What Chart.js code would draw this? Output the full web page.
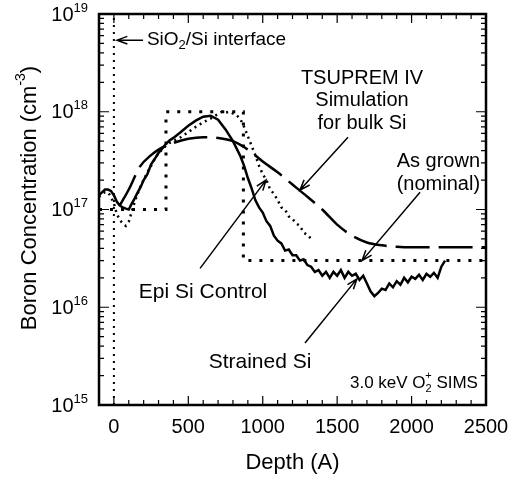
<!DOCTYPE html>
<html>
<head>
<meta charset="utf-8">
<script src="https://cdn.jsdelivr.net/npm/chart.js@4.4.1/dist/chart.umd.min.js"></script>
<style>
  html, body { margin: 0; padding: 0; background: #fff; }
  canvas { display: block; }
</style>
</head>
<body>
<canvas id="sims" width="512" height="482"></canvas>
<script>
// depth in Angstrom, boron concentration in cm^-3
const strainedDepth = [-100, -80, -60, -40, -20, 0, 20, 40, 60, 80, 100, 120, 140, 160, 180, 200, 225, 250, 275, 300,
  325, 350, 375, 400, 450, 500, 550, 600, 650, 700, 750, 800, 825, 850, 875, 900, 925, 950, 975, 1000,
  1025, 1050, 1075, 1100, 1125, 1150, 1175, 1200, 1225, 1250, 1275, 1300, 1325, 1350, 1375, 1400, 1425, 1450, 1475, 1500,
  1525, 1550, 1575, 1600, 1625, 1650, 1675, 1700, 1725, 1750, 1775, 1800, 1825, 1850, 1875, 1900, 1925, 1950, 1975, 2000,
  2025, 2050, 2075, 2100, 2125, 2150, 2175, 2200, 2225];
const strainedConc = [1.4e17, 1.5e17, 1.6e17, 1.6e17, 1.55e17, 1.4e17, 1.2e17, 1.1e17, 1.05e17, 1.02e17, 1.0e17, 1.15e17, 1.3e17, 1.5e17, 1.7e17, 2.0e17, 2.3e17, 2.9e17, 3.3e17, 3.8e17,
  4.2e17, 4.7e17, 5.1e17, 5.4e17, 6.2e17, 7.2e17, 8.1e17, 8.9e17, 9.1e17, 8.3e17, 6.6e17, 5.0e17, 4.2e17, 3.5e17, 2.8e17, 2.1e17, 1.65e17, 1.25e17, 1.05e17, 9.3e16,
  7.6e16, 6.8e16, 5.4e16, 4.8e16, 4.5e16, 3.8e16, 3.9e16, 3.4e16, 3.4e16, 3.0e16, 3.1e16, 2.7e16, 2.6e16, 2.3e16, 2.4e16, 2.1e16, 2.3e16, 2.0e16, 2.3e16, 2.1e16,
  2.4e16, 2.0e16, 2.3e16, 2.1e16, 2.2e16, 1.9e16, 2.1e16, 1.75e16, 1.45e16, 1.3e16, 1.4e16, 1.55e16, 1.5e16, 1.75e16, 1.6e16, 1.85e16, 1.7e16, 2.0e16, 1.8e16, 2.05e16,
  1.95e16, 2.15e16, 1.9e16, 2.2e16, 2.05e16, 2.25e16, 2.0e16, 2.6e16, 3.0e16];

const epiDepth = [-100, -80, -60, -40, -20, 0, 20, 40, 60, 80, 100, 120, 140, 160, 180, 200, 225, 250, 275, 300,
  325, 350, 375, 400, 450, 500, 550, 600, 650, 700, 725, 750, 775, 800, 825, 850, 875, 900, 925, 950,
  975, 1000, 1025, 1050, 1075, 1100, 1125, 1150, 1175, 1200, 1225, 1250, 1275, 1300, 1325];
const epiConc = [1.35e17, 1.45e17, 1.5e17, 1.5e17, 1.35e17, 1.15e17, 9e16, 7.8e16, 7.2e16, 6.8e16, 7.5e16, 9.5e16, 1.2e17, 1.45e17, 1.75e17, 2.0e17, 2.4e17, 2.8e17, 3.3e17, 3.8e17,
  4.1e17, 4.5e17, 4.8e17, 5.0e17, 5.5e17, 6.2e17, 7.0e17, 7.8e17, 8.5e17, 9.5e17, 1.0e18, 9.8e17, 1.0e18, 9.6e17, 9.2e17, 8.4e17, 7.0e17, 5.6e17, 4.5e17, 3.6e17,
  2.8e17, 2.3e17, 2.0e17, 1.6e17, 1.45e17, 1.25e17, 1.05e17, 1.0e17, 8.5e16, 8.0e16, 7.2e16, 6.8e16, 5.8e16, 5.5e16, 5.0e16];

const nominalDepth = [-100, 350, 350, 870, 870, 2500];
const nominalConc = [1e17, 1e17, 1e18, 1e18, 3e16, 3e16];

const tsupremDepth = [40, 100, 175, 250, 300, 400, 500, 600, 700, 800, 900, 1000, 1100, 1200, 1300, 1400, 1500, 1600, 1700, 1800, 1900, 2000, 2500];
const tsupremConc = [1.1e17, 1.6e17, 2.75e17, 3.6e17, 4.1e17, 4.8e17, 5.3e17, 5.5e17, 5.4e17, 5.0e17, 4.1e17, 3.1e17, 2.4e17, 1.8e17, 1.35e17, 1.0e17, 7.0e16, 5.4e16, 4.6e16, 4.3e16, 4.15e16, 4.1e16, 4.1e16];

const interfaceDepth = [0, 0];
const interfaceConc = [1e15, 1e19];

const xTicks = [0, 500, 1000, 1500, 2000, 2500];
const yDecades = [15, 16, 17, 18, 19];

const FONT = '"Liberation Sans", Arial, Helvetica, sans-serif';

function pts(xs, ys) {
  return xs.map((x, i) => ({ x: x, y: ys[i] }));
}

function arrow(ctx, x1, y1, x2, y2) {
  // line from (x1,y1) to tip (x2,y2) with an open head
  const a = Math.atan2(y2 - y1, x2 - x1);
  const h = 11;
  ctx.beginPath();
  ctx.moveTo(x1, y1);
  ctx.lineTo(x2, y2);
  ctx.moveTo(x2 - h * Math.cos(a - 0.35), y2 - h * Math.sin(a - 0.35));
  ctx.lineTo(x2, y2);
  ctx.lineTo(x2 - h * Math.cos(a + 0.35), y2 - h * Math.sin(a + 0.35));
  ctx.stroke();
}

const framePlugin = {
  id: 'frame',
  afterDraw(chart) {
    const ctx = chart.ctx;
    const xs = chart.scales.x, ys = chart.scales.y;
    const a = chart.chartArea;
    const X = v => xs.getPixelForValue(v);
    const Y = v => ys.getPixelForValue(v);

    ctx.save();
    ctx.strokeStyle = '#000';
    ctx.fillStyle = '#000';

    // ticks, inside on all four sides
    ctx.lineWidth = 1.2;
    ctx.beginPath();
    for (let d = -100; d <= 2500; d += 100) {
      const len = d % 500 === 0 ? 9 : 5;
      const px = X(d);
      ctx.moveTo(px, a.bottom); ctx.lineTo(px, a.bottom - len);
      ctx.moveTo(px, a.top); ctx.lineTo(px, a.top + len);
    }
    for (let e = 15; e < 19; e++) {
      for (let m = 1; m <= 9; m++) {
        const py = Y(m * Math.pow(10, e));
        const len = m === 1 ? 10 : 5;
        ctx.moveTo(a.left, py); ctx.lineTo(a.left + len, py);
        ctx.moveTo(a.right, py); ctx.lineTo(a.right - len, py);
      }
    }
    ctx.stroke();

    // frame
    ctx.lineWidth = 2.5;
    ctx.strokeRect(a.left, a.top, a.right - a.left, a.bottom - a.top);

    // x tick labels
    ctx.font = '20px ' + FONT;
    ctx.textAlign = 'center';
    ctx.textBaseline = 'middle';
    xTicks.forEach(t => ctx.fillText(String(t), X(t), a.bottom + 22));

    // y tick labels 10^n
    yDecades.forEach(e => {
      const py = Y(Math.pow(10, e));
      ctx.font = '13px ' + FONT;
      const ew = ctx.measureText(String(e)).width;
      ctx.textAlign = 'right';
      ctx.textBaseline = 'middle';
      ctx.fillText(String(e), 88, py - 6);
      ctx.font = '20px ' + FONT;
      ctx.fillText('10', 88 - ew, py + 1);
    });

    // axis titles
    ctx.font = '22px ' + FONT;
    ctx.textAlign = 'center';
    ctx.textBaseline = 'middle';
    ctx.fillText('Depth (A)', (a.left + a.right) / 2, 463);

    ctx.save();
    ctx.translate(30, 198);
    ctx.rotate(-Math.PI / 2);
    const t1 = 'Boron Concentration (cm';
    ctx.font = '22px ' + FONT;
    const w1 = ctx.measureText(t1).width;
    ctx.font = '14px ' + FONT;
    const w2 = ctx.measureText('-3').width;
    ctx.font = '22px ' + FONT;
    const w3 = ctx.measureText(')').width;
    let sx = -(w1 + w2 + w3) / 2;
    ctx.textAlign = 'left';
    ctx.fillText(t1, sx, 0);
    ctx.font = '14px ' + FONT;
    ctx.fillText('-3', sx + w1, -9);
    ctx.font = '22px ' + FONT;
    ctx.fillText(')', sx + w1 + w2, 0);
    ctx.restore();

    // annotations
    ctx.lineWidth = 1.5;
    ctx.font = '19px ' + FONT;
    ctx.textBaseline = 'middle';

    // SiO2/Si interface
    arrow(ctx, X(196), Y(5.4e18), X(21), Y(5.4e18));
    ctx.textAlign = 'left';
    let tx = X(222), ty = Y(5.5e18);
    ctx.fillText('SiO', tx, ty);
    tx += ctx.measureText('SiO').width;
    ctx.font = '13px ' + FONT;
    ctx.fillText('2', tx, ty + 6);
    tx += ctx.measureText('2').width;
    ctx.font = '19px ' + FONT;
    ctx.fillText('/Si interface', tx, ty);

    // TSUPREM IV
    ctx.font = '20px ' + FONT;
    ctx.textAlign = 'center';
    ctx.fillText('TSUPREM IV', X(1667), Y(2.2e18));
    ctx.fillText('Simulation', X(1667), Y(1.29e18));
    ctx.fillText('for bulk Si', X(1667), Y(7.5e17));
    arrow(ctx, X(1573), Y(5.5e17), X(1250), Y(1.58e17));

    // As grown (nominal)
    ctx.textAlign = 'right';
    ctx.fillText('As grown', X(2460), Y(3.13e17));
    ctx.fillText('(nominal)', X(2460), Y(1.82e17));
    arrow(ctx, X(2057), Y(1.5e17), X(1667), Y(3.0e16));

    // Epi Si Control
    ctx.font = '21px ' + FONT;
    ctx.textAlign = 'center';
    ctx.fillText('Epi Si Control', X(599), Y(1.43e16));
    arrow(ctx, X(579), Y(2.5e16), X(1022), Y(2.0e17));

    // Strained Si
    ctx.fillText('Strained Si', X(982), Y(2.75e15));
    arrow(ctx, X(1284), Y(4.3e15), X(1633), Y(1.95e16));

    // 3.0 keV O2+ SIMS
    ctx.textAlign = 'right';
    let rx = X(2446), ry = Y(1.68e15);
    ctx.font = '17px ' + FONT;
    const sSims = ' SIMS';
    ctx.fillText(sSims, rx, ry);
    rx -= ctx.measureText(sSims).width;
    ctx.font = '11px ' + FONT;
    const wsub = ctx.measureText('2').width;
    ctx.fillText('+', rx, ry - 7);
    ctx.fillText('2', rx, ry + 6);
    rx -= wsub;
    ctx.font = '17px ' + FONT;
    ctx.fillText('3.0 keV O', rx, ry);

    ctx.restore();
  }
};

new Chart(document.getElementById('sims').getContext('2d'), {
  type: 'line',
  data: {
    datasets: [
      {
        label: 'Interface',
        data: pts(interfaceDepth, interfaceConc),
        borderColor: '#000',
        borderWidth: 2,
        borderDash: [2, 5]
      },
      {
        label: 'As grown (nominal)',
        data: pts(nominalDepth, nominalConc),
        borderColor: '#000',
        borderWidth: 3,
        borderDash: [3, 8]
      },
      {
        label: 'TSUPREM IV',
        data: pts(tsupremDepth, tsupremConc),
        borderColor: '#000',
        borderWidth: 2.5,
        borderDash: [34, 9],
        cubicInterpolationMode: 'monotone'
      },
      {
        label: 'Epi Si Control',
        data: pts(epiDepth, epiConc),
        borderColor: '#000',
        borderWidth: 2.5,
        borderDash: [2, 4]
      },
      {
        label: 'Strained Si',
        data: pts(strainedDepth, strainedConc),
        borderColor: '#000',
        borderWidth: 2.5
      }
    ]
  },
  options: {
    responsive: false,
    animation: false,
    devicePixelRatio: 1,
    layout: { padding: { left: 99, top: 14, right: 26, bottom: 77 } },
    elements: { point: { radius: 0 }, line: { tension: 0, fill: false } },
    plugins: { legend: { display: false }, tooltip: { enabled: false } },
    scales: {
      x: { type: 'linear', min: -100, max: 2500, display: false },
      y: { type: 'logarithmic', min: 1e15, max: 1e19, display: false }
    }
  },
  plugins: [framePlugin]
});
</script>
</body>
</html>
